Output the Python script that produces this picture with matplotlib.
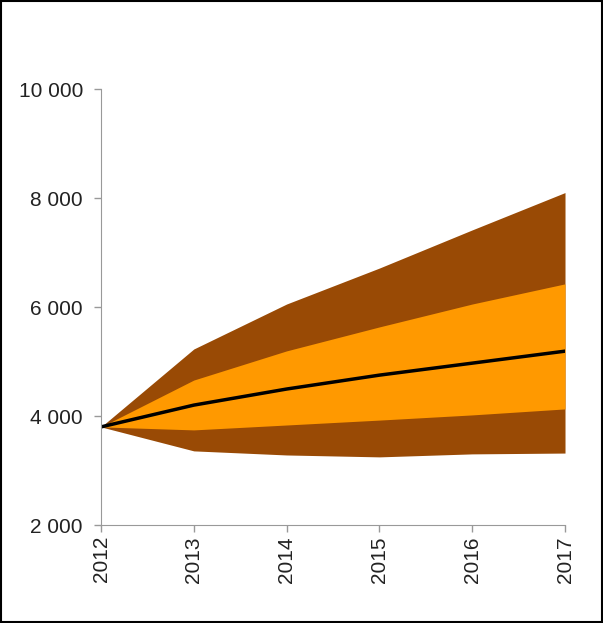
import matplotlib.pyplot as plt
from matplotlib.patches import Rectangle
from matplotlib.ticker import FuncFormatter

years = [2012, 2013, 2014, 2015, 2016, 2017]
outer_low = [3800, 3360, 3285, 3250, 3305, 3320]
inner_low = [3800, 3745, 3835, 3925, 4020, 4130]
median = [3800, 4200, 4495, 4750, 4970, 5190]
inner_high = [3800, 4660, 5195, 5635, 6055, 6425]
outer_high = [3800, 5230, 6055, 6715, 7415, 8100]

plt.rcParams['font.family'] = ['Liberation Sans', 'DejaVu Sans']

fig = plt.figure(figsize=(6.03, 6.23), dpi=100)
ax = fig.add_axes([0.1675, 0.1573, 0.7695, 0.6998])

ax.fill_between(years, outer_low, outer_high, color='#994a05', lw=0)
ax.fill_between(years, inner_low, inner_high, color='#ff9900', lw=0)
ax.plot(years, median, color='black', lw=2.5)

ax.set_xlim(2012, 2017)
ax.set_ylim(2000, 10000)
ax.set_xticks(years)
ax.set_xticklabels([str(y) for y in years], rotation=90)
ax.set_yticks(range(2000, 10001, 2000))
ax.yaxis.set_major_formatter(FuncFormatter(lambda v, p: f"{int(v):,}".replace(',', ' ')))

for s in ['top', 'right']:
    ax.spines[s].set_visible(False)
for s in ['left', 'bottom']:
    ax.spines[s].set_color('#999999')
ax.tick_params(colors='#999999', labelcolor='#222222', labelsize=15, length=5, width=1)
ax.tick_params(axis='y', pad=8)
ax.tick_params(axis='x', pad=3)

fig.patches.append(Rectangle((0.002, 0.002), 0.996, 0.996, transform=fig.transFigure,
                             fill=False, edgecolor='black', lw=1.5))

fig.savefig('out.png', dpi=100)
